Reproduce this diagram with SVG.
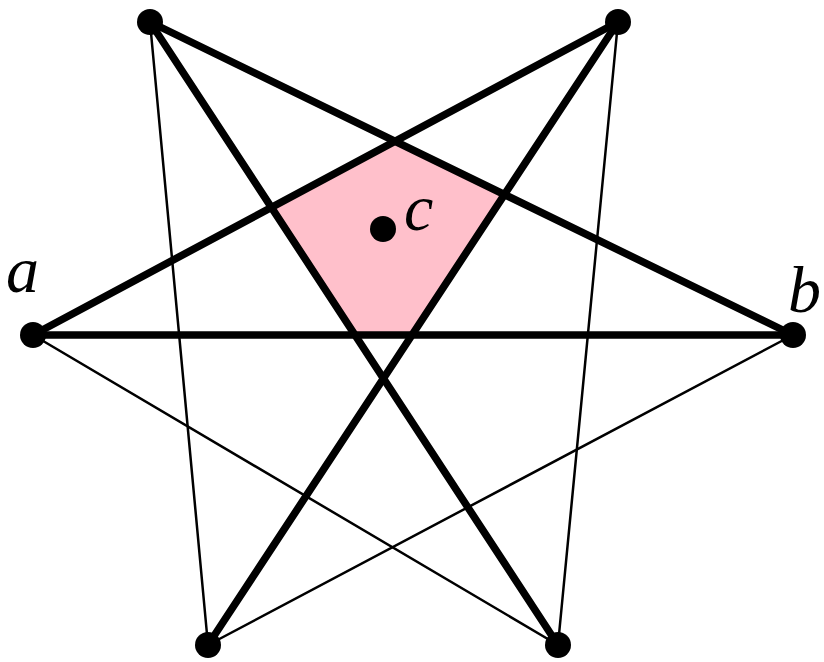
<svg xmlns="http://www.w3.org/2000/svg" width="824" height="662" viewBox="0 0 824 662">
<style>
.thick{stroke:#000;stroke-width:7.5;stroke-linecap:round;fill:none}
.thin{stroke:#000;stroke-width:2.5;stroke-linecap:round;fill:none}
.dot{fill:#000}
.lbl{font-family:"Liberation Serif","DejaVu Serif",serif;font-style:italic;font-size:66px;fill:#000}
</style>
<rect width="824" height="662" fill="#fff"/>
<polygon id="region" points="395,141.3 504.4,194.5 412,335 355,335 271.4,207.4" fill="#FFC0CB"/>
<g id="connectors">
<line class="thin" x1="150" y1="22" x2="208" y2="645"/>
<line class="thin" x1="618" y1="22" x2="558" y2="645"/>
<line class="thin" x1="33" y1="335" x2="558" y2="645"/>
<line class="thin" x1="793" y1="335" x2="208" y2="645"/>
<line class="thick" x1="150" y1="22" x2="558" y2="645"/>
<line class="thick" x1="150" y1="22" x2="793" y2="335"/>
<line class="thick" x1="618" y1="22" x2="33" y2="335"/>
<line class="thick" x1="618" y1="22" x2="208" y2="645"/>
<line class="thick" x1="33" y1="335" x2="793" y2="335"/>
</g>
<g id="node-tl"><circle class="dot" cx="150" cy="22" r="13"/></g>
<g id="node-tr"><circle class="dot" cx="618" cy="22" r="13"/></g>
<g id="node-a"><circle class="dot" cx="33" cy="335" r="13"/><text class="lbl" x="6" y="292">a</text></g>
<g id="node-b"><circle class="dot" cx="793" cy="335" r="13"/><text class="lbl" x="788" y="312">b</text></g>
<g id="node-bl"><circle class="dot" cx="208" cy="645" r="13"/></g>
<g id="node-br"><circle class="dot" cx="558" cy="645" r="13"/></g>
<g id="node-c"><circle class="dot" cx="383" cy="229" r="13"/><text class="lbl" x="404" y="230">c</text></g>
</svg>
